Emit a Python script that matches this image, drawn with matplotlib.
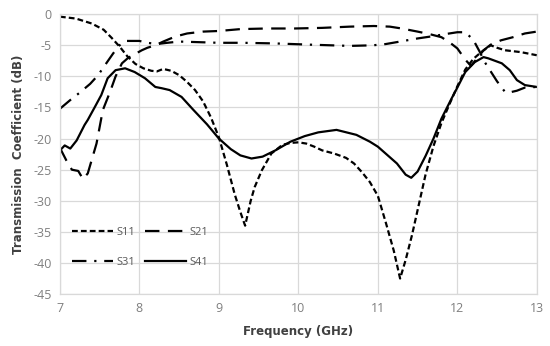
import matplotlib
matplotlib.use("Agg")
import matplotlib.pyplot as plt

# ── Data ─────────────────────────────────────────────────────────────────────
s11_f = [7.0, 7.2, 7.4, 7.55, 7.65, 7.75, 7.85, 7.95, 8.05, 8.15, 8.22, 8.3,
         8.4, 8.5, 8.6, 8.7, 8.8, 8.9, 9.0, 9.1, 9.2, 9.27, 9.33, 9.4, 9.45,
         9.54, 9.66, 9.8, 9.9, 10.0, 10.1, 10.2, 10.3, 10.45, 10.6, 10.7, 10.8,
         10.9, 11.0, 11.1, 11.2, 11.28, 11.35, 11.43, 11.5, 11.6, 11.7, 11.8,
         11.9, 12.0, 12.1, 12.2, 12.3, 12.42, 12.5, 12.6, 12.8, 13.0]
s11_db = [-0.4, -0.7, -1.5, -2.5, -3.8, -5.2, -6.8, -8.0, -8.7, -9.1, -9.2, -8.8,
          -9.1, -9.8, -10.9, -12.2, -14.0, -16.6, -19.8, -24.2, -29.0, -31.8, -34.0, -30.0, -27.8,
          -25.1, -22.4, -21.0, -20.7, -20.6, -20.8, -21.3, -21.9, -22.4, -23.1, -24.0, -25.4,
          -27.0, -29.2, -33.5, -38.0, -42.5, -39.5, -35.5, -31.5, -25.8, -21.2, -17.5,
          -14.5, -11.6, -8.9, -7.2, -6.1, -5.0, -5.4, -5.8, -6.1, -6.6]

s21_f = [7.0, 7.08, 7.15, 7.23, 7.29, 7.35, 7.46, 7.54, 7.63, 7.7, 7.78, 7.86,
         8.03, 8.1, 8.2, 8.3, 8.45, 8.6, 8.8, 9.0, 9.27, 9.6, 9.95, 10.3, 10.65,
         10.95, 11.15, 11.3, 11.5, 11.65, 11.8, 11.9, 12.0, 12.1, 12.17, 12.25,
         12.33, 12.42, 12.55, 12.7, 12.85, 13.0]
s21_db = [-21.5, -23.5, -25.0, -25.2, -26.5, -25.6, -20.8, -15.4, -12.5, -10.0, -7.9, -7.0,
          -5.8, -5.4, -5.0, -4.4, -3.6, -3.1, -2.8, -2.7, -2.4, -2.3, -2.3, -2.2, -2.0,
          -1.9, -2.0, -2.3, -2.8, -3.2, -3.7, -4.5, -5.5, -7.3, -8.3, -7.1,
          -5.8, -4.9, -4.2, -3.7, -3.1, -2.8]

s31_f = [7.0, 7.13, 7.25, 7.38, 7.48, 7.55, 7.67, 7.75, 7.82, 8.0, 8.1, 8.22,
         8.35, 8.5, 8.75, 9.0, 9.3, 9.7, 10.15, 10.4, 10.65, 10.94, 11.1, 11.28,
         11.5, 11.66, 11.85, 12.0, 12.1, 12.2, 12.28, 12.35, 12.42, 12.5, 12.6,
         12.65, 12.75, 12.85, 13.0]
s31_db = [-15.2, -13.8, -12.6, -11.2, -9.8, -8.5, -6.3, -5.0, -4.3, -4.3, -4.6, -4.8,
          -4.6, -4.4, -4.5, -4.6, -4.6, -4.7, -4.9, -5.0, -5.1, -5.0, -4.8, -4.4,
          -3.9, -3.6, -3.2, -2.9, -2.9, -4.1, -6.0, -7.8, -9.2, -10.8, -12.5,
          -12.6, -12.3, -11.8, -11.7]

s41_f = [7.0, 7.06, 7.13, 7.21, 7.31, 7.35, 7.44, 7.52, 7.6, 7.7, 7.82, 7.94,
         8.07, 8.2, 8.28, 8.38, 8.53, 8.68, 8.85, 9.0, 9.15, 9.27, 9.41, 9.55,
         9.71, 9.9, 10.08, 10.25, 10.48, 10.73, 10.9, 11.0, 11.24, 11.35, 11.42,
         11.5, 11.6, 11.7, 11.8, 11.93, 12.0, 12.1, 12.22, 12.33, 12.39, 12.56,
         12.66, 12.75, 12.85, 13.0]
s41_db = [-21.9, -21.1, -21.6, -20.3, -17.8, -17.0, -14.9, -13.0, -10.3, -9.0, -8.7, -9.3,
          -10.3, -11.7, -11.9, -12.2, -13.3, -15.4, -17.7, -20.0, -21.7, -22.7, -23.2, -22.9,
          -21.9, -20.5, -19.6, -19.0, -18.6, -19.4, -20.5, -21.3, -24.0, -25.8, -26.3,
          -25.3, -22.8, -20.0, -16.8, -13.5, -11.8, -9.3, -7.7, -6.9, -7.1, -7.9,
          -9.0, -10.6, -11.4, -11.7]

x_ticks = [7, 8, 9, 10, 11, 12, 13]
y_ticks = [0, -5, -10, -15, -20, -25, -30, -35, -40, -45]

# ── Style ────────────────────────────────────────────────────────────────────
plt.rcParams["font.family"] = ["DejaVu Sans"]
plt.rcParams["axes.unicode_minus"] = False

GRID = "#d9d9d9"
TICK = "#7f7f7f"
LABEL = "#404040"

fig = plt.figure(figsize=(5.5, 3.46), dpi=100)
ax = fig.add_axes([0.109, 0.150, 0.867, 0.809])

lw = 1.6
l11, = ax.plot(s11_f, s11_db, color="black", lw=lw, dashes=(2.6, 1.4), label="S11")
l21, = ax.plot(s21_f, s21_db, color="black", lw=lw, dashes=(6.5, 3.8), label="S21")
l31, = ax.plot(s31_f, s31_db, color="black", lw=lw, dashes=(6.5, 3.5, 1.0, 3.5), label="S31")
l41, = ax.plot(s41_f, s41_db, color="black", lw=lw, label="S41")

ax.set_xlim(7, 13)
ax.set_ylim(-45, 0)
ax.set_xticks(x_ticks)
ax.set_yticks(y_ticks)
ax.grid(True, color=GRID, lw=0.9)
ax.set_axisbelow(True)
for sp in ax.spines.values():
    sp.set_color(GRID)
    sp.set_linewidth(0.9)
ax.tick_params(length=0, colors=TICK, labelsize=9, pad=6)
for t in ax.get_xticklabels() + ax.get_yticklabels():
    t.set_family("Open Sans")

ax.set_xlabel("Frequency (GHz)", fontsize=8.5, fontweight="bold", color=LABEL, labelpad=7)
ax.set_ylabel("Transmission  Coefficient (dB)", fontsize=8.5, fontweight="bold",
              color=LABEL, labelpad=6)

# legend is filled column-wise, so order handles to get S11 S21 / S31 S41 rows
leg = ax.legend([l11, l31, l21, l41], ["S11", "S31", "S21", "S41"],
                loc="center left", bbox_to_anchor=(0.025, 0.166), ncol=2, frameon=False,
                fontsize=8, handlelength=3.7, handletextpad=0.35, columnspacing=0.8,
                labelspacing=1.75, borderpad=0, borderaxespad=0)
for t in leg.get_texts():
    t.set_color("#595959")
    t.set_family("Open Sans")

fig.savefig("out.png", dpi=100)
